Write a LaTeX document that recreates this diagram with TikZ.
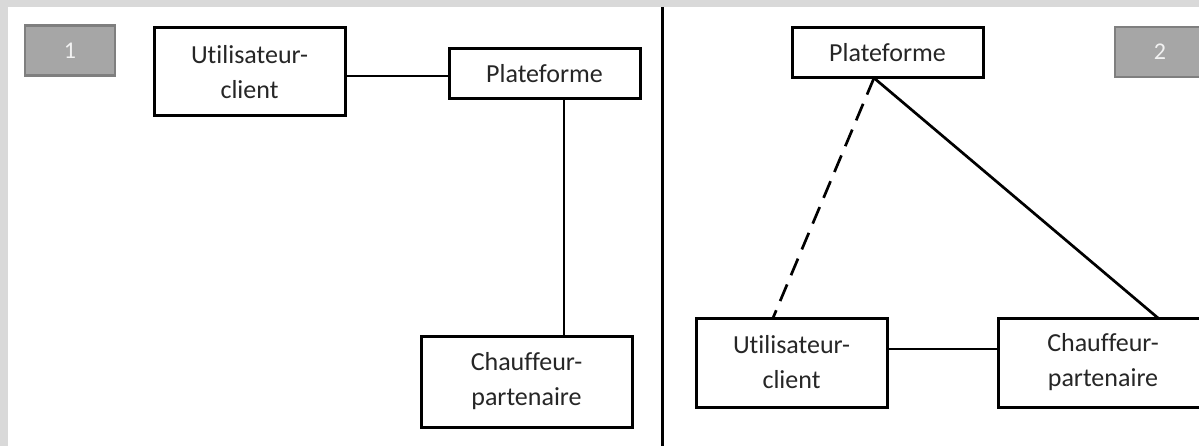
\documentclass[tikz,border=0pt]{standalone}
\usepackage{fontspec}
\setmainfont[Ligatures=NoCommon]{Carlito}
\definecolor{bandgray}{HTML}{D9D9D9}
\definecolor{tagfill}{HTML}{A6A6A6}
\definecolor{tagedge}{HTML}{7F7F7F}
\definecolor{tagtext}{HTML}{F2F2F2}
\definecolor{boxtext}{HTML}{262626}
\begin{document}
\begin{tikzpicture}[x=1pt,y=-1pt,
  ent/.style={draw=black,line width=3pt,fill=white,inner sep=0pt,align=center,
     text=boxtext,font=\fontsize{26}{35}\selectfont},
  tag/.style={draw=tagedge,line width=2.2pt,fill=tagfill,inner sep=0pt,
     minimum width=90pt,minimum height=50pt,text=tagtext,font=\fontsize{24}{28}\selectfont},
  link/.style={line width=2.7pt,black},
  dlink/.style={line width=2.7pt,black,dash pattern=on 18pt off 10pt}]
\useasboundingbox (0,0) rectangle (1199,446);
\clip (0,0) rectangle (1199,446);
\fill[white] (0,0) rectangle (1199,446);
\fill[bandgray] (0,0) rectangle (1199,7);
\fill[bandgray] (0,0) rectangle (8,446);
% divider
\coordinate (dtop) at (662.5,7);
\coordinate (dbot) at (662.5,446);
\draw[line width=3pt] (dtop) -- (dbot);
% panel 1
\node[tag] (t1) at (70,50.5) {1};
\node[ent,minimum width=191pt,minimum height=88pt] (uL) at (249.5,72) {Utilisateur-\\client};
\node[ent,minimum width=191pt,minimum height=50pt] (pL) at (544.5,74) {Plateforme};
\node[ent,minimum width=211pt,minimum height=91pt] (cL) at (526.5,381.5) {Chauffeur-\\partenaire};
\coordinate (h1) at (449,76);
\coordinate (v1) at (564,99);
\draw[link] (h1) -- (h1 -| uL.east);
\draw[link] (v1) -- (v1 |- cL.north);
% panel 2
\node[tag] (t2) at (1160,52) {2};
\node[ent,minimum width=191pt,minimum height=50pt] (pR) at (887.5,53) {Plateforme};
\node[ent,minimum width=191pt,minimum height=89pt] (uR) at (791.5,362.5) {Utilisateur-\\client};
\node[ent,minimum width=210pt,minimum height=89pt] (cR) at (1103,362.5) {Chauffeur-\\partenaire};
\coordinate (apex) at (874,78);
\coordinate (du) at (773,318);
\coordinate (sc) at (1158,318);
\coordinate (h2) at (887,349);
\draw[dlink] (apex) -- (du);
\draw[link] (apex) -- (sc);
\draw[link] (h2) -- (h2 -| cR.west);
\end{tikzpicture}
\end{document}
